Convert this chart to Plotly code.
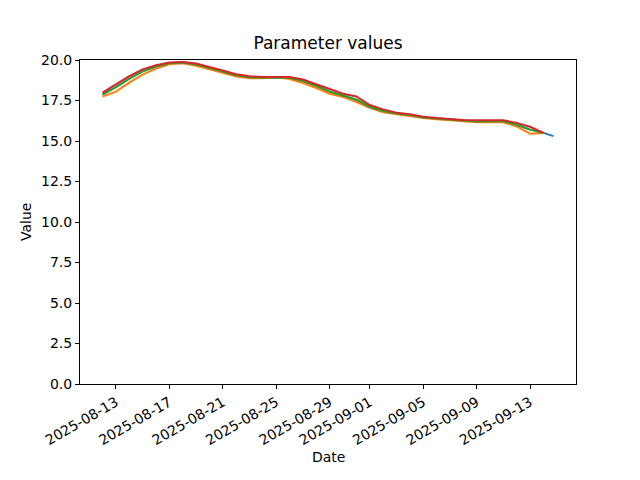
import pandas as pd
import plotly.graph_objects as go

# ---- data ----
dates = list(pd.date_range("2025-08-12", "2025-09-14", freq="D"))
blue_dates = dates + [pd.Timestamp("2025-09-14 18:00")]

series_blue = [17.88, 18.33, 18.85, 19.3, 19.6, 19.8, 19.84, 19.72, 19.5, 19.27, 19.05, 18.93,
               18.92, 18.95, 18.9, 18.7, 18.4, 18.05, 17.8, 17.55, 17.1, 16.85, 16.7, 16.6,
               16.45, 16.38, 16.3, 16.25, 16.2, 16.22, 16.22, 16.0, 15.7, 15.5, 15.3]
series_orange = [17.75, 18.05, 18.6, 19.1, 19.47, 19.73, 19.8, 19.64, 19.42, 19.18, 18.98, 18.88,
                 18.88, 18.93, 18.83, 18.57, 18.27, 17.92, 17.72, 17.4, 17.05, 16.77, 16.65, 16.55,
                 16.42, 16.35, 16.27, 16.23, 16.15, 16.15, 16.15, 15.9, 15.45, 15.5]
series_green = [17.88, 18.33, 18.85, 19.3, 19.6, 19.8, 19.84, 19.72, 19.5, 19.27, 19.05, 18.93,
                18.92, 18.95, 18.9, 18.7, 18.4, 18.05, 17.8, 17.55, 17.1, 16.85, 16.7, 16.6,
                16.45, 16.38, 16.3, 16.25, 16.2, 16.22, 16.22, 16.0, 15.7, 15.5]
series_red = [17.98, 18.5, 19.0, 19.42, 19.68, 19.84, 19.88, 19.78, 19.58, 19.35, 19.12, 19.0,
              18.95, 18.97, 18.95, 18.8, 18.52, 18.2, 17.92, 17.75, 17.22, 16.95, 16.75, 16.65,
              16.5, 16.42, 16.35, 16.3, 16.28, 16.27, 16.28, 16.12, 15.88, 15.5]

x_tick_vals = ["2025-08-13", "2025-08-17", "2025-08-21", "2025-08-25", "2025-08-29",
               "2025-09-01", "2025-09-05", "2025-09-09", "2025-09-13"]
y_tick_vals = [0.0, 2.5, 5.0, 7.5, 10.0, 12.5, 15.0, 17.5, 20.0]
y_tick_text = ["0.0", "2.5", "5.0", "7.5", "10.0", "12.5", "15.0", "17.5", "20.0"]

colors = ["#1f77b4", "#ff7f0e", "#2ca02c", "#d62728"]

fig = go.Figure()
for xs, ys, c in [(blue_dates, series_blue, colors[0]),
                  (dates, series_orange, colors[1]),
                  (dates, series_green, colors[2]),
                  (dates, series_red, colors[3])]:
    fig.add_trace(go.Scatter(x=xs, y=ys, mode="lines", line=dict(color=c, width=2),
                             showlegend=False, hoverinfo="skip"))

xmin = min(blue_dates)
xmax = max(blue_dates)
pad = (xmax - xmin) * 0.05

font = "DejaVu Sans"
fig.update_layout(
    width=640, height=480,
    margin=dict(l=72, r=72, t=52, b=104, autoexpand=False),
    paper_bgcolor="white", plot_bgcolor="white",
    font=dict(family=font, size=14, color="black"),
    title=dict(text="Parameter values", x=0.5, xanchor="center", xref="paper",
               y=1 - 35 / 480, yref="container", yanchor="middle",
               font=dict(size=17, family=font, color="black")),
)
fig.update_xaxes(
    type="date", range=[xmin - pad, xmax + pad],
    tickvals=x_tick_vals, ticktext=x_tick_vals, tickangle=-30,
    ticks="outside", ticklen=4, tickwidth=1, tickcolor="black",
    showline=True, linecolor="black", linewidth=1, mirror=True,
    showgrid=False, zeroline=False, automargin=False,
    tickfont=dict(size=14, family=font, color="black"),
)
fig.update_yaxes(
    range=[0, 20], tickvals=y_tick_vals, ticktext=y_tick_text,
    ticks="outside", ticklen=4, tickwidth=1, tickcolor="black",
    showline=True, linecolor="black", linewidth=1, mirror=True,
    showgrid=False, zeroline=False, automargin=False,
    tickfont=dict(size=14, family=font, color="black"),
)
fig.add_annotation(text="Date", xref="paper", yref="paper", x=0.5, y=-(457 - 384) / 324,
                   xanchor="center", yanchor="middle", showarrow=False,
                   font=dict(size=14, family=font, color="black"))
fig.add_annotation(text="Value", xref="paper", yref="paper", x=-(80 - 26) / 496, y=0.5,
                   xanchor="center", yanchor="middle", textangle=-90, showarrow=False,
                   font=dict(size=14, family=font, color="black"))

fig.write_html("out.html")
